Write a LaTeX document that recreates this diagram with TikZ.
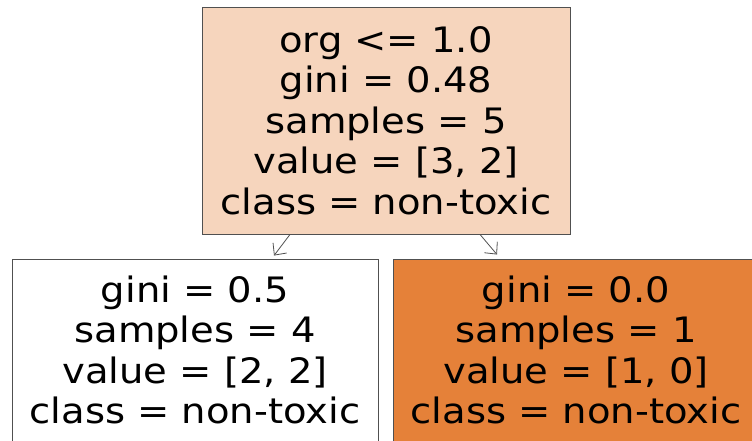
\documentclass[tikz,border=0pt]{standalone}
\usepackage{fontspec}
\setmainfont{DejaVu Sans}[FakeStretch=1.1]
\usetikzlibrary{arrows.meta}
\definecolor{rootfill}{HTML}{F6D5BD}
\definecolor{leaffill}{HTML}{E58139}
\definecolor{edgegray}{HTML}{505050}
\tikzset{
  treenode/.style={draw=edgegray, line width=0.9pt, align=center, inner sep=0pt,
    font=\fontsize{35}{40.5}\selectfont, text=black},
  arr/.style={-{Straight Barb[length=9pt,width=17pt]}, draw=edgegray, line width=0.8pt}
}
\begin{document}
\begin{tikzpicture}[x=1pt,y=-1pt]
  \useasboundingbox (0,0) rectangle (752,441);
  \clip (0,0) rectangle (752,441);
  \node[treenode, fill=rootfill, minimum width=368pt, minimum height=227pt] (root) at (386,120.5)
    {org <= 1.0\\gini = 0.48\\samples = 5\\value = [3, 2]\\class = non-toxic};
  \node[treenode, fill=white, minimum width=366pt, minimum height=182pt] (left) at (195,350)
    {gini = 0.5\\samples = 4\\value = [2, 2]\\class = non-toxic};
  \node[treenode, fill=leaffill, minimum width=366pt, minimum height=182pt] (right) at (576,350)
    {gini = 0.0\\samples = 1\\value = [1, 0]\\class = non-toxic};
  \draw[arr] ([xshift=-96pt]root.south) -- ([xshift=79pt,yshift=3pt]left.north);
  \draw[arr] ([xshift=94pt]root.south) -- ([xshift=-79pt,yshift=4pt]right.north);
\end{tikzpicture}
\end{document}
